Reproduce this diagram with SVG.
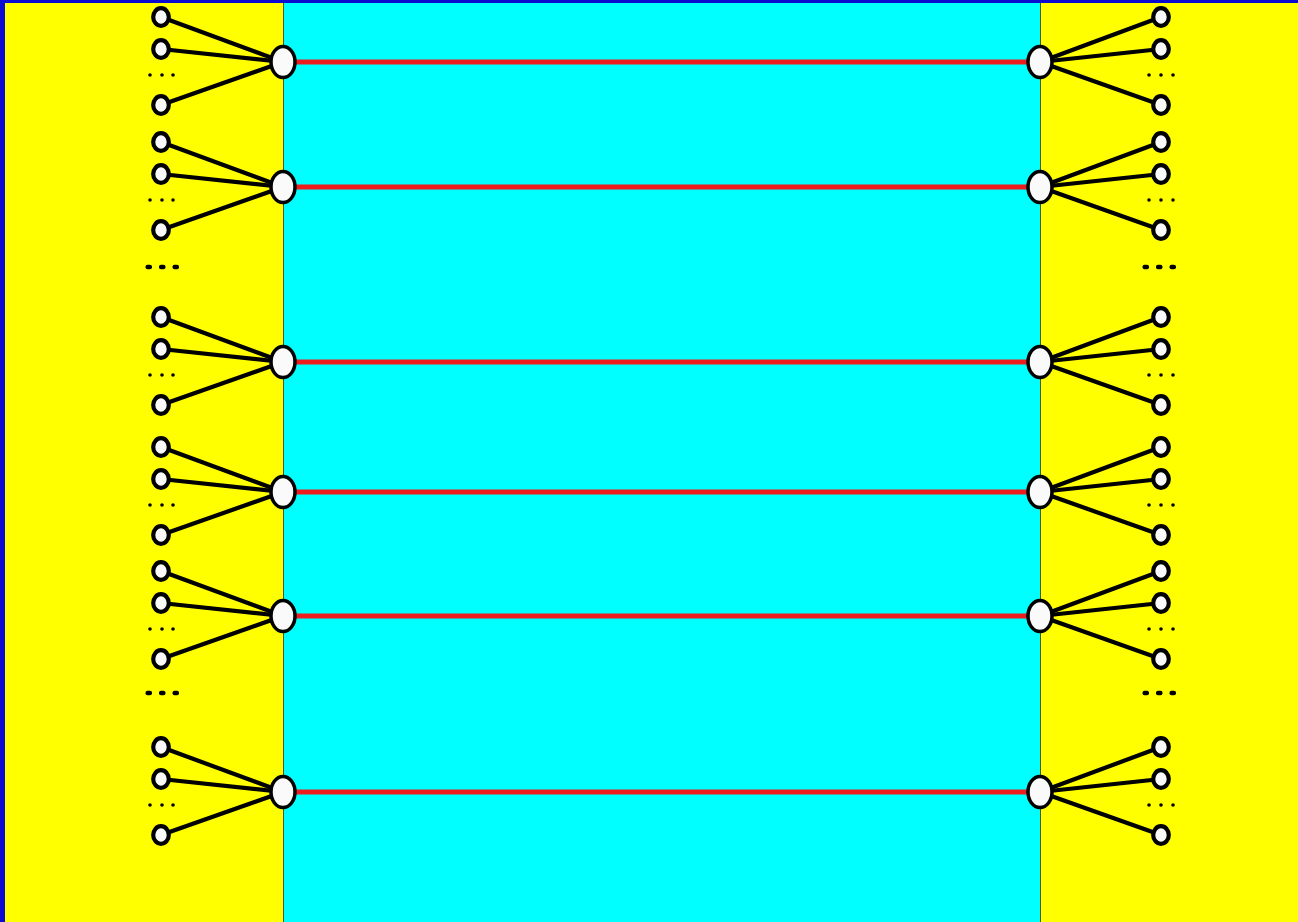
<svg xmlns="http://www.w3.org/2000/svg" xmlns:xlink="http://www.w3.org/1999/xlink" width="1298" height="922" viewBox="0 0 1298 922">
<style>
.spoke{stroke:#000;stroke-width:4.2;stroke-linecap:round;fill:none}
.link{stroke:#ee1c1c;stroke-width:5;fill:none}
.leaf{fill:#fafafa;stroke:#000;stroke-width:4.2}
.hub{fill:#fafafa;stroke:#000;stroke-width:3.5}
.dot{fill:#000}
</style>
<defs>
<g id="fanL">
<line class="spoke" x1="161" y1="-45" x2="283" y2="0"/>
<line class="spoke" x1="161" y1="-13" x2="283" y2="0"/>
<line class="spoke" x1="161" y1="43" x2="283" y2="0"/>
<ellipse class="leaf" cx="161" cy="-45" rx="7.8" ry="8.8"/>
<ellipse class="leaf" cx="161" cy="-13" rx="7.8" ry="8.8"/>
<ellipse class="leaf" cx="161" cy="43" rx="7.8" ry="8.8"/>
<circle class="dot" cx="150" cy="13" r="1.8"/>
<circle class="dot" cx="162" cy="13" r="1.8"/>
<circle class="dot" cx="173" cy="13" r="1.8"/>
<ellipse class="hub" cx="283" cy="0" rx="12" ry="15.5"/>
</g>
<g id="fanR">
<line class="spoke" x1="1161" y1="-45" x2="1040" y2="0"/>
<line class="spoke" x1="1161" y1="-13" x2="1040" y2="0"/>
<line class="spoke" x1="1161" y1="43" x2="1040" y2="0"/>
<ellipse class="leaf" cx="1161" cy="-45" rx="7.8" ry="8.8"/>
<ellipse class="leaf" cx="1161" cy="-13" rx="7.8" ry="8.8"/>
<ellipse class="leaf" cx="1161" cy="43" rx="7.8" ry="8.8"/>
<circle class="dot" cx="1149" cy="13" r="1.8"/>
<circle class="dot" cx="1161" cy="13" r="1.8"/>
<circle class="dot" cx="1173" cy="13" r="1.8"/>
<ellipse class="hub" cx="1040" cy="0" rx="12" ry="15.5"/>
</g>
<g id="bigdots">
<rect class="dot" x="-2.5" y="-2.2" width="6.5" height="4.4" rx="2"/>
<rect class="dot" x="11" y="-2.2" width="6.5" height="4.4" rx="2"/>
<rect class="dot" x="24.5" y="-2.2" width="6.5" height="4.4" rx="2"/>
</g>
</defs>
<g id="background">
<rect x="0" y="0" width="1298" height="922" fill="#0a0ad0"/>
<rect x="5" y="3" width="278" height="919" fill="#ffff00"/>
<rect x="283" y="3" width="757" height="919" fill="#00ffff"/>
<rect x="1040" y="3" width="258" height="919" fill="#ffff00"/>
<line x1="283.5" y1="3" x2="283.5" y2="922" stroke="#4a5a3a" stroke-width="1"/>
<line x1="1040.5" y1="3" x2="1040.5" y2="922" stroke="#4a5a3a" stroke-width="1"/>
</g>
<g id="connectors">
<line class="link" x1="283" y1="62" x2="1040" y2="62"/>
<line class="link" x1="283" y1="187" x2="1040" y2="187"/>
<line class="link" x1="283" y1="362" x2="1040" y2="362"/>
<line class="link" x1="283" y1="492" x2="1040" y2="492"/>
<line class="link" x1="283" y1="616" x2="1040" y2="616"/>
<line class="link" x1="283" y1="792" x2="1040" y2="792"/>
</g>
<g id="left-fan-1"><use xlink:href="#fanL" transform="translate(0,62)"/></g>
<g id="left-fan-2"><use xlink:href="#fanL" transform="translate(0,187)"/></g>
<g id="left-fan-3"><use xlink:href="#fanL" transform="translate(0,362)"/></g>
<g id="left-fan-4"><use xlink:href="#fanL" transform="translate(0,492)"/></g>
<g id="left-fan-5"><use xlink:href="#fanL" transform="translate(0,616)"/></g>
<g id="left-fan-6"><use xlink:href="#fanL" transform="translate(0,792)"/></g>
<g id="right-fan-1"><use xlink:href="#fanR" transform="translate(0,62)"/></g>
<g id="right-fan-2"><use xlink:href="#fanR" transform="translate(0,187)"/></g>
<g id="right-fan-3"><use xlink:href="#fanR" transform="translate(0,362)"/></g>
<g id="right-fan-4"><use xlink:href="#fanR" transform="translate(0,492)"/></g>
<g id="right-fan-5"><use xlink:href="#fanR" transform="translate(0,616)"/></g>
<g id="right-fan-6"><use xlink:href="#fanR" transform="translate(0,792)"/></g>
<g id="ellipses">
<use xlink:href="#bigdots" transform="translate(148,267)"/>
<use xlink:href="#bigdots" transform="translate(148,693)"/>
<use xlink:href="#bigdots" transform="translate(1145,267)"/>
<use xlink:href="#bigdots" transform="translate(1145,693)"/>
</g>
</svg>
